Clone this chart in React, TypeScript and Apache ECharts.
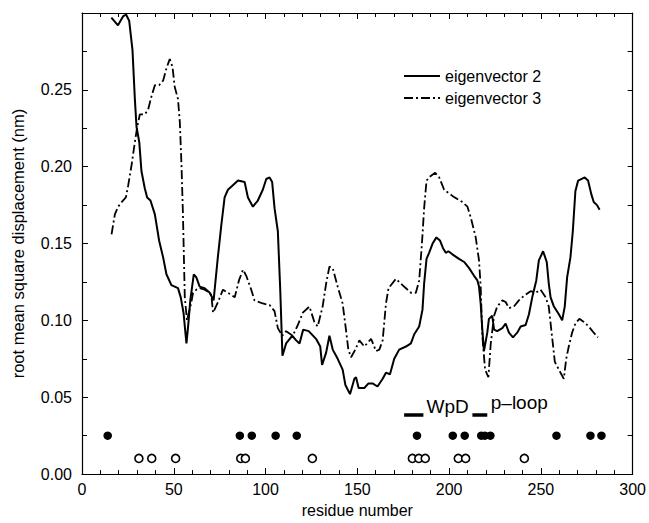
import React, { useEffect, useRef } from "react";
import * as echarts from "echarts";

// residue number, rmsd (nm)
const eigenvector2: [number, number][] = [
  [16, 0.297], [19.6, 0.292], [22.5, 0.298], [24, 0.299], [25.7, 0.295], [27.5, 0.276], [28.8, 0.244],
  [29.7, 0.226], [31.2, 0.216], [32.4, 0.197], [34.2, 0.186], [35.5, 0.18], [37.3, 0.178], [39.7, 0.169],
  [42, 0.152], [44.2, 0.141], [46, 0.13], [48.7, 0.123], [52.3, 0.121], [53.8, 0.115], [55.3, 0.105],
  [56.9, 0.085], [57.8, 0.096], [59, 0.113], [60.9, 0.13], [62.3, 0.128], [64.1, 0.122], [66.8, 0.121],
  [69.6, 0.118], [71.7, 0.113], [74, 0.141], [75.9, 0.162], [77.7, 0.18], [79.5, 0.185], [82.2, 0.188],
  [85, 0.191], [88.6, 0.19], [90.4, 0.18], [93.1, 0.174], [95.8, 0.178], [98.5, 0.185], [100.4, 0.192],
  [102.2, 0.193], [103.6, 0.19], [104.9, 0.173], [106.7, 0.158], [108, 0.12], [109.2, 0.077], [111.2, 0.085],
  [114.5, 0.09], [116.7, 0.087], [118.5, 0.085], [120.5, 0.094], [123.5, 0.093], [127.5, 0.088],
  [129.8, 0.083], [130.8, 0.071], [133, 0.079], [134.8, 0.09], [136.6, 0.081], [139.3, 0.075], [142, 0.068],
  [143.5, 0.058], [146, 0.052], [148.4, 0.062], [149.3, 0.063], [150.7, 0.056], [153.8, 0.056],
  [156.1, 0.059], [158.3, 0.059], [161, 0.057], [163.8, 0.062], [165.6, 0.066], [167.8, 0.065],
  [170.1, 0.075], [172.8, 0.081], [176.5, 0.083], [179.2, 0.085], [181, 0.091], [183.7, 0.096],
  [185.5, 0.107], [186.4, 0.124], [187.7, 0.14], [189.1, 0.144], [191, 0.15], [193.1, 0.154], [195, 0.152],
  [196.7, 0.147], [198.2, 0.144], [199.6, 0.145], [201.8, 0.143], [205.4, 0.14], [208.2, 0.138],
  [210.9, 0.134], [213.6, 0.129], [215.4, 0.126], [216.3, 0.122], [217.2, 0.111], [218.1, 0.094],
  [219, 0.08], [220.8, 0.092], [221.7, 0.101], [223.5, 0.103], [224.5, 0.094], [226.2, 0.093], [229, 0.095],
  [230.8, 0.098], [232.6, 0.092], [234.8, 0.089], [237.1, 0.092], [239, 0.096], [241.7, 0.097],
  [243.5, 0.104], [245.3, 0.115], [247.5, 0.126], [248.9, 0.139], [251.2, 0.145], [253.2, 0.138],
  [254.3, 0.124], [255.3, 0.115], [257.1, 0.109], [259.8, 0.104], [261.6, 0.1], [263, 0.109],
  [264.3, 0.128], [266.1, 0.141], [267.4, 0.158], [268.8, 0.184], [270.3, 0.191], [273.9, 0.193],
  [275.7, 0.191], [277.5, 0.182], [278.8, 0.177], [280.6, 0.175], [282, 0.172],
];

const eigenvector3: [number, number][] = [
  [16.1, 0.156], [17.9, 0.169], [19.7, 0.174], [21.6, 0.177], [23.9, 0.18], [25.2, 0.188], [27, 0.201],
  [28.8, 0.216], [30.1, 0.226], [31.5, 0.234], [34.2, 0.234], [36, 0.237], [37.9, 0.246], [39.7, 0.253],
  [42, 0.253], [44.2, 0.256], [46, 0.264], [47.8, 0.27], [49.3, 0.265], [50.5, 0.252], [52.3, 0.244],
  [53.3, 0.229], [54.2, 0.201], [55, 0.169], [56, 0.115], [57.2, 0.1], [59.6, 0.112], [60.5, 0.118],
  [62.3, 0.12], [64.1, 0.121], [66.8, 0.12], [69.6, 0.118], [70.5, 0.116], [71.4, 0.105], [74.1, 0.112],
  [76.8, 0.12], [79.5, 0.118], [83.2, 0.115], [85.5, 0.126], [87.7, 0.133], [89.5, 0.129], [92.2, 0.12],
  [94, 0.113], [98.5, 0.111], [102.2, 0.11], [104.9, 0.106], [106.7, 0.095], [109.1, 0.09], [111.2, 0.093],
  [114.8, 0.09], [117.6, 0.097], [120.3, 0.105], [123.9, 0.109], [126.6, 0.099], [128.4, 0.096],
  [131.1, 0.109], [133, 0.124], [134.8, 0.135], [136.6, 0.134], [139.3, 0.122], [142, 0.111],
  [143.8, 0.094], [145.1, 0.081], [146.6, 0.076], [148.9, 0.081], [151.1, 0.087], [153.8, 0.083],
  [157.5, 0.088], [160.2, 0.08], [162, 0.081], [163.8, 0.087], [165.6, 0.111], [167, 0.121], [171, 0.127],
  [174.6, 0.123], [179.2, 0.118], [181.9, 0.118], [183.7, 0.126], [185.2, 0.15], [186.4, 0.173],
  [187.7, 0.191], [190, 0.194], [192.4, 0.196], [194.6, 0.193], [197.3, 0.185], [201.8, 0.181],
  [207.2, 0.177], [210, 0.174], [211.8, 0.167], [214.5, 0.154], [216.3, 0.139], [217.2, 0.122],
  [218.1, 0.09], [219.6, 0.068], [221.4, 0.063], [222.7, 0.085], [224.5, 0.103], [226.2, 0.109],
  [229, 0.113], [230.8, 0.112], [232.6, 0.108], [235.3, 0.109], [238, 0.113], [240.8, 0.116],
  [244.4, 0.119], [247.1, 0.118], [249.8, 0.12], [252.6, 0.115], [254.3, 0.109], [255.3, 0.098],
  [256.5, 0.085], [257.6, 0.073], [259.8, 0.068], [261.6, 0.064], [262.5, 0.062], [263.8, 0.075],
  [265.2, 0.083], [267, 0.092], [268.8, 0.098], [271, 0.101], [273.4, 0.099], [276.1, 0.096],
  [278.8, 0.092], [281.1, 0.089],
];

const filledResidues = [14, 86, 92.5, 105.5, 117, 182.5, 202, 208.5, 217.5, 219.5, 222.5, 258.5, 277, 283];
const filledLevel = 0.025;
const openResidues = [31, 38, 51, 86.5, 89, 125.5, 180, 183.5, 187, 205, 209, 241];
const openLevel = 0.0102;

const wpdBar: [number, number][] = [[175.5, 0.0385], [186, 0.0385]];
const ploopBar: [number, number][] = [[212.7, 0.0385], [220.8, 0.0385]];
const annotations: { text: string; x: number; y: number }[] = [
  { text: "WpD", x: 187.7, y: 0.0442 },
  { text: "p\u2013loop", x: 222.7, y: 0.0465 },
];

const FONT = "'Liberation Sans', Arial, Helvetica, sans-serif";

export default function App() {
  const ref = useRef<HTMLDivElement>(null);
  useEffect(() => {
    if (!ref.current) return;
    const chart = echarts.init(ref.current, undefined, { renderer: "svg" });
    const axisLine = { show: true, onZero: false, lineStyle: { color: "#000", width: 1.2 } };
    const axisTick = { show: true, inside: true, length: 6, lineStyle: { color: "#000", width: 1 } };
    const minorTick = { show: true, length: 4, lineStyle: { color: "#000", width: 1 } };
    chart.setOption({
      animation: false,
      backgroundColor: "#fff",
      textStyle: { fontFamily: FONT },
      grid: { left: 82, right: 16, top: 13, bottom: 43, containLabel: false },
      legend: {
        data: ["eigenvector 2", "eigenvector 3"],
        orient: "vertical",
        left: 398,
        top: 63,
        itemWidth: 36,
        itemHeight: 14,
        itemGap: 6,
        itemStyle: { opacity: 0 },
        textStyle: { fontFamily: FONT, fontSize: 16, color: "#000" },
      },
      xAxis: [
        {
          type: "value",
          min: 0,
          max: 300,
          interval: 50,
          minorTick: { ...minorTick, splitNumber: 5 },
          axisLine,
          axisTick,
          splitLine: { show: false },
          axisLabel: { fontSize: 16, color: "#000", margin: 7, fontFamily: FONT },
          name: "residue number",
          nameLocation: "middle",
          nameGap: 26,
          nameTextStyle: { fontSize: 16, color: "#000", fontFamily: FONT },
        },
        {
          type: "value",
          position: "top",
          min: 0,
          max: 300,
          interval: 50,
          minorTick: { ...minorTick, splitNumber: 5 },
          axisLine,
          axisTick,
          splitLine: { show: false },
          axisLabel: { show: false },
        },
      ],
      yAxis: [
        {
          type: "value",
          min: 0,
          max: 0.3,
          interval: 0.05,
          minorTick: { ...minorTick, splitNumber: 2, length: 5 },
          axisLine,
          axisTick,
          splitLine: { show: false },
          axisLabel: {
            fontSize: 16,
            color: "#000",
            margin: 10,
            fontFamily: FONT,
            formatter: (v: number) => (v > 0.29 ? "" : v.toFixed(2)),
          },
          name: "root mean square displacement (nm)",
          nameLocation: "middle",
          nameGap: 56,
          nameTextStyle: { fontSize: 16.5, color: "#000", fontFamily: FONT },
        },
        {
          type: "value",
          position: "right",
          min: 0,
          max: 0.3,
          interval: 0.025,
          axisLine,
          axisTick: { ...axisTick, length: 5 },
          splitLine: { show: false },
          axisLabel: { show: false },
        },
      ],
      series: [
        {
          name: "eigenvector 2",
          type: "line",
          data: eigenvector2,
          symbol: "none",
          lineStyle: { color: "#000", width: 2 },
          itemStyle: { color: "#000" },
          z: 3,
        },
        {
          name: "eigenvector 3",
          type: "line",
          data: eigenvector3,
          symbol: "none",
          lineStyle: { color: "#000", width: 1.8, type: [9, 3, 2, 3] },
          itemStyle: { color: "#000" },
          z: 3,
        },
        {
          name: "filled",
          type: "scatter",
          data: filledResidues.map((r) => [r, filledLevel]),
          symbol: "circle",
          symbolSize: 8.5,
          itemStyle: { color: "#000", opacity: 1 },
        },
        {
          name: "open",
          type: "scatter",
          data: openResidues.map((r) => [r, openLevel]),
          symbol: "circle",
          symbolSize: 8,
          itemStyle: { color: "#fff", borderColor: "#000", borderWidth: 1.6, opacity: 1 },
        },
        {
          name: "wpd-bar",
          type: "line",
          data: wpdBar,
          symbol: "none",
          lineStyle: { color: "#000", width: 3.5 },
        },
        {
          name: "ploop-bar",
          type: "line",
          data: ploopBar,
          symbol: "none",
          lineStyle: { color: "#000", width: 3.5 },
        },
        {
          name: "annotations",
          type: "scatter",
          data: annotations.map((a) => ({ value: [a.x, a.y], name: a.text })),
          symbolSize: 0,
          silent: true,
          itemStyle: { opacity: 1 },
          label: {
            show: true,
            position: "right",
            distance: 0,
            formatter: (p: any) => p.name,
            fontSize: 19,
            color: "#000",
            opacity: 1,
            fontFamily: FONT,
          },
        },
      ],
    });
    return () => chart.dispose();
  }, []);
  return <div ref={ref} style={{ width: 649, height: 523, position: "absolute", left: 0, top: 0 }} />;
}
